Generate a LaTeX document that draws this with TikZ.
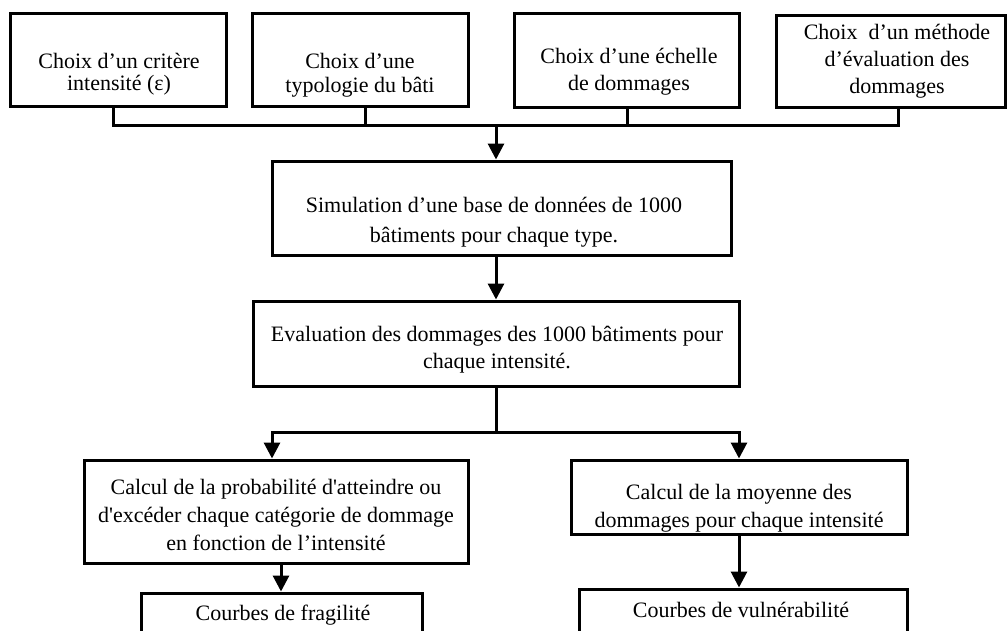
\documentclass[tikz,border=0pt]{standalone}
\usepackage{fontspec}
\setmainfont{Liberation Serif}
\usetikzlibrary{arrows.meta}
\newcommand{\fs}[1]{\fontsize{22}{#1}\selectfont}
\tikzset{
  box/.style={draw, line width=3pt, inner sep=0pt},
  txt/.style={inner sep=0pt, align=center},
  ln/.style={line width=3pt},
  arr/.style={line width=3pt, -{Triangle[width=16pt,length=16pt]}},
}
\begin{document}
\begin{tikzpicture}[x=1pt,y=-1pt]
\useasboundingbox (0,0) rectangle (1007,630);
\clip (0,0) rectangle (1007,630);
% top boxes
\node[box, minimum width=216pt, minimum height=93pt] (b1) at (118,59.5) {};
\node[box, minimum width=216pt, minimum height=93pt] (b2) at (360,59.5) {};
\node[box, minimum width=225pt, minimum height=94pt] (b3) at (626.5,60) {};
\node[box, minimum width=229pt, minimum height=92pt] (b4) at (890.5,61) {};
\node[txt, font=\fs{22}] (t1) at (119,74) {Choix d’un critère\\intensité (ε)};
\node[txt, font=\fs{24}] (t2) at (360,75) {Choix d’une\\typologie du bâti};
\node[txt, font=\fs{27}] (t3) at (629,72) {Choix d’une échelle\\de dommages};
\node[txt, font=\fs{27}] (t4) at (897,61) {Choix\ \ d’un méthode\\d’évaluation des\\dommages};
% middle boxes
\node[box, minimum width=459pt, minimum height=94pt] (sim) at (501.5,208) {};
\node[txt, font=\fs{30}] (tsim) at (494,222) {Simulation d’une base de données de 1000\\bâtiments pour chaque type.};
\node[box, minimum width=486pt, minimum height=85pt] (eval) at (496,343.5) {};
\node[txt, font=\fs{27}] (teval) at (497,350) {Evaluation des dommages des 1000 bâtiments pour\\chaque intensité.};
% lower boxes
\node[box, minimum width=384pt, minimum height=103pt] (left) at (276,511.5) {};
\node[txt, font=\fs{28}] (tleft) at (276,515) {Calcul de la probabilité d\textquotesingle atteindre ou\\d\textquotesingle excéder chaque catégorie de dommage\\en fonction de l’intensité};
\node[box, minimum width=336pt, minimum height=74pt] (right) at (739,497) {};
\node[txt, font=\fs{28}] (tright) at (739,508) {Calcul de la moyenne des\\dommages pour chaque intensité};
\node[box, minimum width=281pt, minimum height=46pt] (frag) at (281.5,616) {};
\node[txt, font=\fs{24}] (tfrag) at (283,615) {Courbes de fragilité};
\node[box, minimum width=328pt, minimum height=46pt] (vuln) at (743,612) {};
\node[txt, font=\fs{24}] (tvuln) at (741,610) {Courbes de vulnérabilité};
% connectors
\coordinate (s1) at (113,125);
\coordinate (s2) at (365,125);
\coordinate (s3) at (627,125);
\coordinate (s4) at (898,125);
\coordinate (j1) at (496,125);
\draw[ln] (b1.south -| s1) -- (s1) -- (s4) -- (b4.south -| s4);
\draw[ln] (b2.south -| s2) -- (s2);
\draw[ln] (b3.south -| s3) -- (s3);
\draw[arr] (j1) -- (sim.north -| j1);
\draw[arr] (sim.south -| j1) -- (eval.north -| j1);
\coordinate (j2) at (496,432);
\coordinate (jl) at (272,432);
\coordinate (jr) at (739,432);
\draw[arr] (eval.south -| j2) -- (j2) -- (jl) -- (left.north -| jl);
\draw[arr] (j2) -- (jr) -- (right.north -| jr);
\coordinate (fl) at (281,0);
\draw[arr] (left.south -| fl) -- (frag.north -| fl);
\coordinate (fr) at (739,0);
\draw[arr] (right.south -| fr) -- (vuln.north -| fr);
\end{tikzpicture}
\end{document}
